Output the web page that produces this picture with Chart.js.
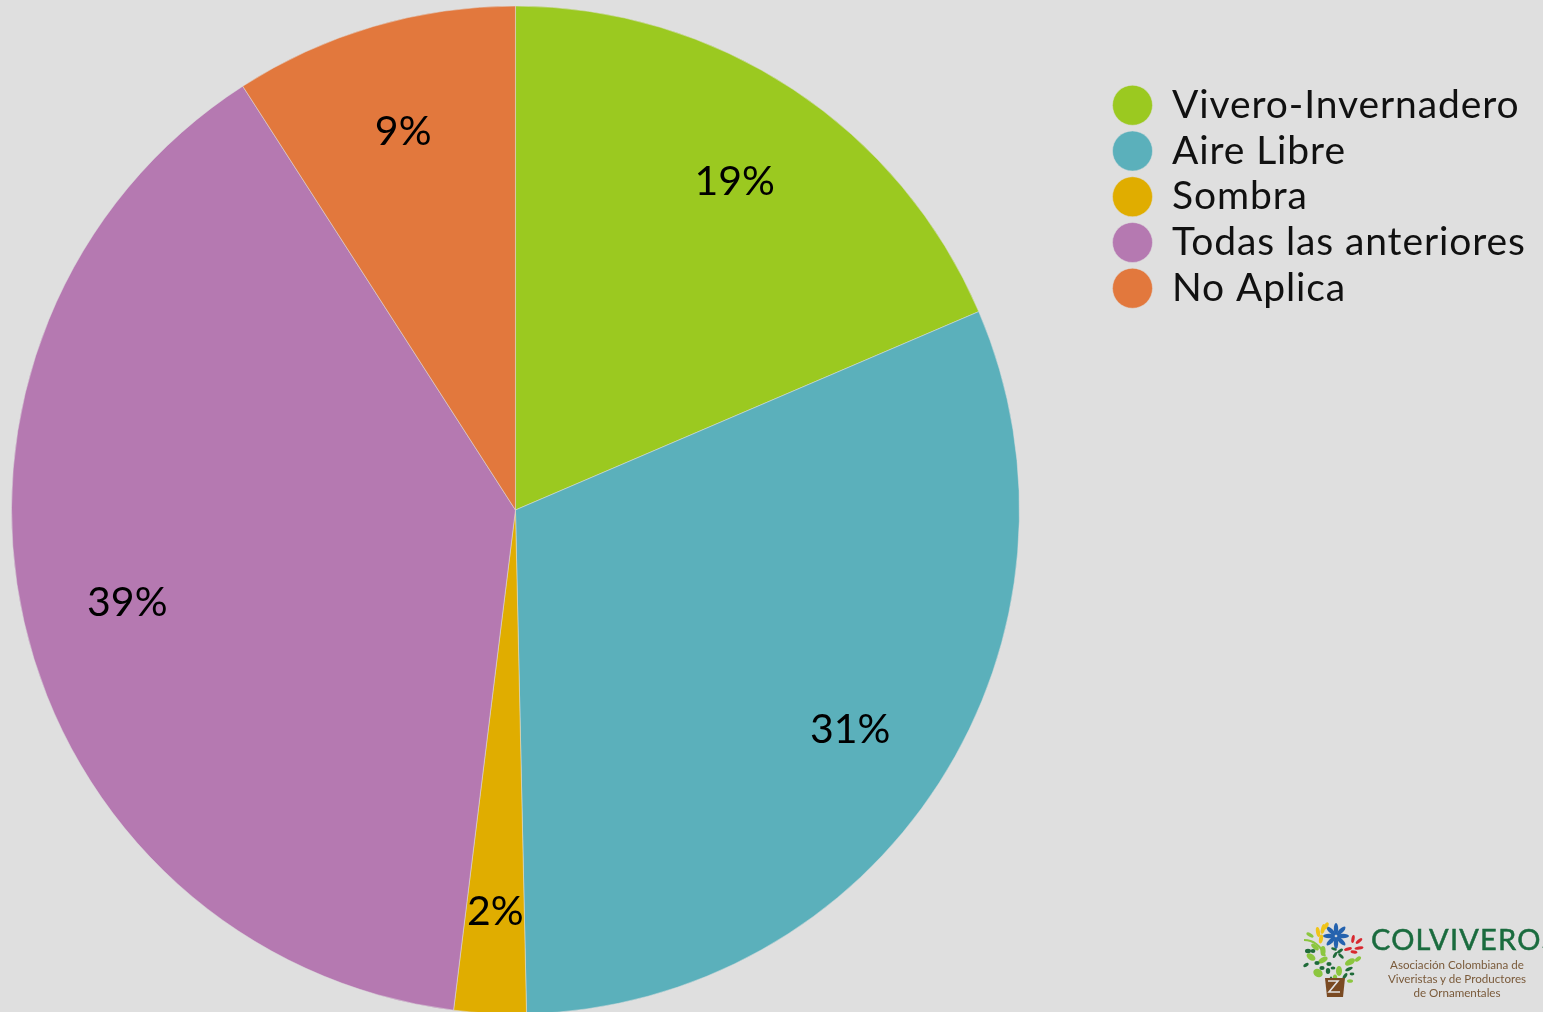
<!DOCTYPE html>
<html><head><meta charset="utf-8">
<style>
html,body{margin:0;padding:0;width:1543px;height:1012px;overflow:hidden;background:#dfdfdf}
#wrap{position:absolute;left:0;top:0;width:1543px;height:1020px}
#logo{position:absolute;left:1298px;top:918px}
.t{position:absolute;white-space:nowrap;font-family:Lato,sans-serif}
</style>
<script src="https://cdn.jsdelivr.net/npm/chart.js@4/dist/chart.umd.min.js"></script>
</head><body>
<div id="wrap"><canvas id="c" width="1543" height="1020"></canvas></div>
<svg id="logo" width="70" height="84" viewBox="0 0 70 84">
 <g fill="#2462ae">
  <ellipse cx="38" cy="11" rx="2.2" ry="6"/>
  <ellipse cx="38" cy="11" rx="2.2" ry="6" transform="rotate(45 38 18)"/>
  <ellipse cx="38" cy="11" rx="2.2" ry="6" transform="rotate(90 38 18)"/>
  <ellipse cx="38" cy="11" rx="2.2" ry="6" transform="rotate(135 38 18)"/>
  <ellipse cx="38" cy="11" rx="2.2" ry="6" transform="rotate(180 38 18)"/>
  <ellipse cx="38" cy="11" rx="2.2" ry="6" transform="rotate(225 38 18)"/>
  <ellipse cx="38" cy="11" rx="2.2" ry="6" transform="rotate(270 38 18)"/>
  <ellipse cx="38" cy="11" rx="2.2" ry="6" transform="rotate(315 38 18)"/>
 </g>
 <g fill="#f0c419">
  <ellipse cx="20" cy="14" rx="2" ry="5" transform="rotate(-10 20 14)"/>
  <ellipse cx="25" cy="11" rx="2" ry="5" transform="rotate(15 25 11)"/>
  <ellipse cx="28" cy="8" rx="2" ry="4" transform="rotate(30 28 8)"/>
  <ellipse cx="23" cy="21" rx="2" ry="4.5" transform="rotate(10 23 21)"/>
 </g>
 <g fill="#d8282f">
  <ellipse cx="55" cy="21" rx="1.6" ry="4" transform="rotate(10 55 21)"/>
  <ellipse cx="61" cy="23" rx="1.6" ry="4" transform="rotate(50 61 23)"/>
  <ellipse cx="61" cy="30" rx="1.6" ry="4.5" transform="rotate(80 61 30)"/>
  <ellipse cx="50" cy="31" rx="1.6" ry="4" transform="rotate(75 50 31)"/>
  <ellipse cx="56" cy="34" rx="1.6" ry="3.5" transform="rotate(100 56 34)"/>
 </g>
 <path d="M6 22Q20 22 27 38" stroke="#8cc63f" stroke-width="2.2" fill="none"/>
 <g fill="#8cc63f">
  <ellipse cx="12" cy="17" rx="4" ry="1.8" transform="rotate(30 12 17)"/>
  <ellipse cx="17" cy="29" rx="4.5" ry="2.2" transform="rotate(40 17 29)"/>
  <ellipse cx="25" cy="33" rx="2.6" ry="5"/>
  <ellipse cx="13" cy="39" rx="5" ry="3" transform="rotate(35 13 39)"/>
  <ellipse cx="25" cy="42" rx="5" ry="2.6" transform="rotate(-30 25 42)"/>
  <ellipse cx="20" cy="55" rx="5" ry="4" transform="rotate(35 20 55)"/>
  <ellipse cx="41" cy="53" rx="3" ry="5"/>
  <ellipse cx="52" cy="44" rx="5.5" ry="3" transform="rotate(-30 52 44)"/>
  <ellipse cx="60" cy="41" rx="3.5" ry="2" transform="rotate(-40 60 41)"/>
  <ellipse cx="52" cy="63" rx="3" ry="1.8"/>
  <ellipse cx="37" cy="60" rx="2.2" ry="3.6"/>
 </g>
 <g fill="#1f6b3a">
  <ellipse cx="10" cy="33" rx="3" ry="2.2"/>
  <ellipse cx="15" cy="33" rx="2.4" ry="2"/>
  <ellipse cx="36" cy="31" rx="3" ry="1.4" transform="rotate(20 36 31)"/>
  <ellipse cx="42" cy="33" rx="3.4" ry="1.5" transform="rotate(-35 42 33)"/>
  <ellipse cx="37" cy="37" rx="3.4" ry="1.5" transform="rotate(-60 37 37)"/>
  <ellipse cx="43" cy="38" rx="3.4" ry="1.5" transform="rotate(45 43 38)"/>
  <ellipse cx="8" cy="47" rx="3" ry="1.6" transform="rotate(-30 8 47)"/>
  <ellipse cx="19" cy="45" rx="2.6" ry="2"/>
  <ellipse cx="24" cy="50" rx="2.6" ry="2"/>
  <ellipse cx="31" cy="46" rx="2.6" ry="2"/>
  <ellipse cx="30" cy="53" rx="2.2" ry="3"/>
  <ellipse cx="35" cy="50" rx="2.4" ry="1.6"/>
  <ellipse cx="51" cy="51" rx="4" ry="1.6" transform="rotate(-25 51 51)"/>
  <ellipse cx="47" cy="58" rx="3.4" ry="1.6" transform="rotate(-55 47 58)"/>
  <ellipse cx="54" cy="56" rx="2.4" ry="1.4"/>
  <ellipse cx="33" cy="62" rx="1.4" ry="3.6"/>
 </g>
 <path d="M27 60L47 60L45 79L29 79Z" fill="#7a4a22"/>
 <path d="M30 63L40 63L31 74L42 74" stroke="#e4e4e4" stroke-width="1.6" fill="none"/>
</svg>
<div class="t" style="left:1371px;top:921px;font-size:29px;font-weight:400;color:#1a6b3e;letter-spacing:1.2px;-webkit-text-stroke:.5px #1a6b3e;width:172px;overflow:hidden">COLVIVEROS:</div>
<div class="t" style="left:1377px;top:958px;width:160px;text-align:center;font-size:11.6px;line-height:14px;color:#7a5a3a">Asociación Colombiana de<br>Viveristas y de Productores<br>de Ornamentales</div>
<script>
const categories = ["Vivero-Invernadero","Aire Libre","Sombra","Todas las anteriores","No Aplica"];
const values = [18.56,31.09,2.31,38.94,9.10];
const percentLabels = ["19%","31%","2%","39%","9%"];
const colors = ["#9bc920","#5bb0bb","#e0ad00","#b579b1","#e2783d"];
const fontFamily = "Lato, sans-serif";

const legendPlacer = {
  id:'legendPlacer',
  afterLayout(chart){
    const l = chart.legend;
    l.left = 1105.75; l.right = 1543; l.top = 79; l.bottom = 332;
  },
  beforeDraw(chart){ chart.ctx.letterSpacing = '0.9px'; },
  afterDatasetsDraw(chart){
    const arcs = chart.getDatasetMeta(0).data, ctx = chart.ctx;
    ctx.save();
    ctx.letterSpacing = '0px';
    ctx.font = '400 41px ' + fontFamily;
    ctx.fillStyle = '#000';
    ctx.textAlign = 'center'; ctx.textBaseline = 'middle';
    arcs.forEach((a,i)=>{
      const p = a.getProps(['x','y','startAngle','endAngle','outerRadius']);
      const m = (p.startAngle+p.endAngle)/2, r = p.outerRadius*0.79;
      ctx.fillText(percentLabels[i], p.x+Math.cos(m)*r, p.y+Math.sin(m)*r+4);
    });
    ctx.restore();
  }
};

new Chart(document.getElementById('c'),{
  type:'pie',
  data:{labels:categories,datasets:[{data:values,backgroundColor:colors,borderColor:'rgba(223,223,223,0.5)',borderWidth:1,hoverOffset:0}]},
  options:{
    responsive:false,animation:false,
    layout:{padding:{left:11,top:5,bottom:5,right:111}},
    plugins:{
      tooltip:{enabled:false},
      legend:{
        position:'right',align:'start',
        labels:{usePointStyle:true,pointStyle:'circle',pointStyleWidth:40,boxHeight:28.3,padding:6.75,color:'#111',
          font:{family:fontFamily,size:39,weight:400}}
      }
    }
  },
  plugins:[legendPlacer]
});
</script>
</body></html>
